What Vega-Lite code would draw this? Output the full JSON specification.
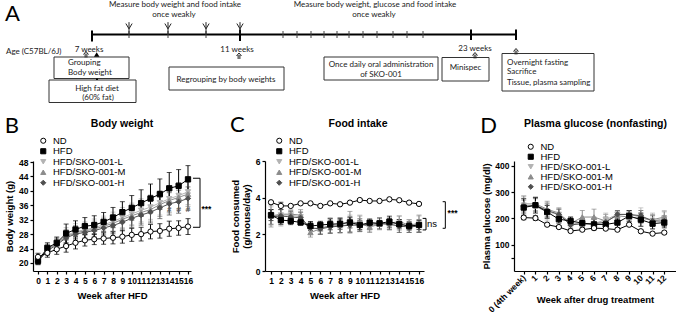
{
  "$schema": "https://vega.github.io/schema/vega-lite/v6.json",
  "background": "white",
  "padding": {"left": 4, "top": 0, "right": 0, "bottom": 0},
  "bounds": "flush",
  "spacing": 56,
  "config": {
    "view": {"stroke": null},
    "font": "Liberation Sans",
    "axis": {"labelFont": "Liberation Sans", "labelFontWeight": "bold", "labelFontSize": 8.5, "labelColor": "#000", "titleFont": "Liberation Sans", "titleFontWeight": "bold", "titleFontSize": 9.5, "titleColor": "#000", "domainColor": "#000", "tickColor": "#000", "domainWidth": 1.2, "tickWidth": 1.2, "tickSize": 3, "labelPadding": 2, "grid": false, "labelOverlap": false, "labelFlush": false},
    "legend": {"padding": 0, "labelFont": "Liberation Sans", "labelFontWeight": "normal", "labelFontSize": 9.5, "labelColor": "#000", "symbolSize": 26, "symbolStrokeWidth": 1, "rowPadding": -0.5, "labelOffset": 5}
  },
  "datasets": {
    "bw": [
      {"g":"HFD/SKO-001-L","w":0,"m":20.8,"e":1.0},{"g":"HFD/SKO-001-L","w":1,"m":23.6,"e":1.3},{"g":"HFD/SKO-001-L","w":2,"m":25.4,"e":1.6},{"g":"HFD/SKO-001-L","w":3,"m":27.6,"e":2.2},{"g":"HFD/SKO-001-L","w":4,"m":28.7,"e":2.2},{"g":"HFD/SKO-001-L","w":5,"m":29.2,"e":2.2},{"g":"HFD/SKO-001-L","w":6,"m":29.8,"e":2.4},{"g":"HFD/SKO-001-L","w":7,"m":30.6,"e":2.4},{"g":"HFD/SKO-001-L","w":8,"m":31.5,"e":2.6},{"g":"HFD/SKO-001-L","w":9,"m":32.6,"e":2.8},{"g":"HFD/SKO-001-L","w":10,"m":33.6,"e":3.0},{"g":"HFD/SKO-001-L","w":11,"m":34.6,"e":3.2},{"g":"HFD/SKO-001-L","w":12,"m":35.5,"e":3.4},{"g":"HFD/SKO-001-L","w":13,"m":36.7,"e":3.4},{"g":"HFD/SKO-001-L","w":14,"m":37.8,"e":3.6},{"g":"HFD/SKO-001-L","w":15,"m":38.7,"e":3.6},{"g":"HFD/SKO-001-L","w":16,"m":39.7,"e":3.5},
      {"g":"HFD/SKO-001-M","w":0,"m":20.6,"e":0.9},{"g":"HFD/SKO-001-M","w":1,"m":23.9,"e":1.3},{"g":"HFD/SKO-001-M","w":2,"m":25.3,"e":1.5},{"g":"HFD/SKO-001-M","w":3,"m":27.3,"e":2.0},{"g":"HFD/SKO-001-M","w":4,"m":28.4,"e":2.0},{"g":"HFD/SKO-001-M","w":5,"m":28.9,"e":2.1},{"g":"HFD/SKO-001-M","w":6,"m":29.4,"e":2.2},{"g":"HFD/SKO-001-M","w":7,"m":30.2,"e":2.3},{"g":"HFD/SKO-001-M","w":8,"m":31.0,"e":2.5},{"g":"HFD/SKO-001-M","w":9,"m":32.1,"e":2.6},{"g":"HFD/SKO-001-M","w":10,"m":33.1,"e":2.8},{"g":"HFD/SKO-001-M","w":11,"m":34.0,"e":3.0},{"g":"HFD/SKO-001-M","w":12,"m":34.8,"e":3.2},{"g":"HFD/SKO-001-M","w":13,"m":36.2,"e":3.3},{"g":"HFD/SKO-001-M","w":14,"m":37.3,"e":3.4},{"g":"HFD/SKO-001-M","w":15,"m":38.2,"e":3.5},{"g":"HFD/SKO-001-M","w":16,"m":39.1,"e":3.4},
      {"g":"HFD/SKO-001-H","w":0,"m":20.4,"e":0.9},{"g":"HFD/SKO-001-H","w":1,"m":23.4,"e":1.2},{"g":"HFD/SKO-001-H","w":2,"m":25.0,"e":1.4},{"g":"HFD/SKO-001-H","w":3,"m":27.0,"e":1.9},{"g":"HFD/SKO-001-H","w":4,"m":28.0,"e":1.9},{"g":"HFD/SKO-001-H","w":5,"m":28.5,"e":2.0},{"g":"HFD/SKO-001-H","w":6,"m":29.0,"e":2.1},{"g":"HFD/SKO-001-H","w":7,"m":29.7,"e":2.2},{"g":"HFD/SKO-001-H","w":8,"m":30.4,"e":2.3},{"g":"HFD/SKO-001-H","w":9,"m":31.3,"e":2.4},{"g":"HFD/SKO-001-H","w":10,"m":32.4,"e":2.6},{"g":"HFD/SKO-001-H","w":11,"m":33.3,"e":2.8},{"g":"HFD/SKO-001-H","w":12,"m":34.1,"e":3.0},{"g":"HFD/SKO-001-H","w":13,"m":35.3,"e":3.0},{"g":"HFD/SKO-001-H","w":14,"m":36.4,"e":3.1},{"g":"HFD/SKO-001-H","w":15,"m":37.0,"e":3.2},{"g":"HFD/SKO-001-H","w":16,"m":37.9,"e":3.2},
      {"g":"HFD","w":0,"m":20.6,"e":1.0},{"g":"HFD","w":1,"m":24.2,"e":1.4},{"g":"HFD","w":2,"m":25.6,"e":1.6},{"g":"HFD","w":3,"m":28.2,"e":2.6},{"g":"HFD","w":4,"m":29.3,"e":2.4},{"g":"HFD","w":5,"m":30.2,"e":2.4},{"g":"HFD","w":6,"m":30.5,"e":2.6},{"g":"HFD","w":7,"m":31.4,"e":2.6},{"g":"HFD","w":8,"m":32.6,"e":2.8},{"g":"HFD","w":9,"m":34.1,"e":2.9},{"g":"HFD","w":10,"m":35.3,"e":3.4},{"g":"HFD","w":11,"m":36.6,"e":3.7},{"g":"HFD","w":12,"m":37.9,"e":4.0},{"g":"HFD","w":13,"m":39.1,"e":4.2},{"g":"HFD","w":14,"m":40.7,"e":4.4},{"g":"HFD","w":15,"m":41.4,"e":4.5},{"g":"HFD","w":16,"m":43.2,"e":3.8},
      {"g":"ND","w":0,"m":21.7,"e":1.0},{"g":"ND","w":1,"m":22.8,"e":1.2},{"g":"ND","w":2,"m":23.8,"e":1.4},{"g":"ND","w":3,"m":24.7,"e":1.7},{"g":"ND","w":4,"m":25.6,"e":1.7},{"g":"ND","w":5,"m":26.3,"e":1.6},{"g":"ND","w":6,"m":26.6,"e":1.5},{"g":"ND","w":7,"m":26.8,"e":1.6},{"g":"ND","w":8,"m":27.0,"e":1.7},{"g":"ND","w":9,"m":27.3,"e":1.8},{"g":"ND","w":10,"m":27.8,"e":1.8},{"g":"ND","w":11,"m":28.0,"e":1.9},{"g":"ND","w":12,"m":28.7,"e":2.0},{"g":"ND","w":13,"m":28.9,"e":2.0},{"g":"ND","w":14,"m":29.5,"e":2.1},{"g":"ND","w":15,"m":29.7,"e":2.0},{"g":"ND","w":16,"m":30.1,"e":2.2}
    ],
    "fi": [
      {"g":"HFD/SKO-001-L","w":1,"m":3.0,"e":0.5},{"g":"HFD/SKO-001-L","w":2,"m":3.05,"e":0.6},{"g":"HFD/SKO-001-L","w":3,"m":3.05,"e":0.3},{"g":"HFD/SKO-001-L","w":4,"m":2.95,"e":0.3},{"g":"HFD/SKO-001-L","w":5,"m":2.3,"e":0.3},{"g":"HFD/SKO-001-L","w":6,"m":2.35,"e":0.3},{"g":"HFD/SKO-001-L","w":7,"m":2.45,"e":0.4},{"g":"HFD/SKO-001-L","w":8,"m":2.45,"e":0.4},{"g":"HFD/SKO-001-L","w":9,"m":2.55,"e":0.5},{"g":"HFD/SKO-001-L","w":10,"m":2.6,"e":0.45},{"g":"HFD/SKO-001-L","w":11,"m":2.45,"e":0.3},{"g":"HFD/SKO-001-L","w":12,"m":2.6,"e":0.3},{"g":"HFD/SKO-001-L","w":13,"m":2.55,"e":0.3},{"g":"HFD/SKO-001-L","w":14,"m":2.6,"e":0.4},{"g":"HFD/SKO-001-L","w":15,"m":2.45,"e":0.35},{"g":"HFD/SKO-001-L","w":16,"m":2.55,"e":0.45},
      {"g":"HFD/SKO-001-M","w":1,"m":3.0,"e":0.6},{"g":"HFD/SKO-001-M","w":2,"m":3.1,"e":0.5},{"g":"HFD/SKO-001-M","w":3,"m":3.1,"e":0.2},{"g":"HFD/SKO-001-M","w":4,"m":3.05,"e":0.3},{"g":"HFD/SKO-001-M","w":5,"m":2.1,"e":0.25},{"g":"HFD/SKO-001-M","w":6,"m":2.3,"e":0.3},{"g":"HFD/SKO-001-M","w":7,"m":2.5,"e":0.4},{"g":"HFD/SKO-001-M","w":8,"m":2.5,"e":0.4},{"g":"HFD/SKO-001-M","w":9,"m":2.7,"e":0.55},{"g":"HFD/SKO-001-M","w":10,"m":2.6,"e":0.4},{"g":"HFD/SKO-001-M","w":11,"m":2.4,"e":0.3},{"g":"HFD/SKO-001-M","w":12,"m":2.55,"e":0.3},{"g":"HFD/SKO-001-M","w":13,"m":2.6,"e":0.3},{"g":"HFD/SKO-001-M","w":14,"m":2.7,"e":0.3},{"g":"HFD/SKO-001-M","w":15,"m":2.5,"e":0.3},{"g":"HFD/SKO-001-M","w":16,"m":2.6,"e":0.45},
      {"g":"HFD/SKO-001-H","w":1,"m":2.95,"e":0.4},{"g":"HFD/SKO-001-H","w":2,"m":3.0,"e":0.35},{"g":"HFD/SKO-001-H","w":3,"m":2.95,"e":0.3},{"g":"HFD/SKO-001-H","w":4,"m":2.9,"e":0.3},{"g":"HFD/SKO-001-H","w":5,"m":2.35,"e":0.3},{"g":"HFD/SKO-001-H","w":6,"m":2.3,"e":0.3},{"g":"HFD/SKO-001-H","w":7,"m":2.4,"e":0.35},{"g":"HFD/SKO-001-H","w":8,"m":2.45,"e":0.35},{"g":"HFD/SKO-001-H","w":9,"m":2.5,"e":0.4},{"g":"HFD/SKO-001-H","w":10,"m":2.5,"e":0.35},{"g":"HFD/SKO-001-H","w":11,"m":2.55,"e":0.3},{"g":"HFD/SKO-001-H","w":12,"m":2.6,"e":0.3},{"g":"HFD/SKO-001-H","w":13,"m":2.55,"e":0.3},{"g":"HFD/SKO-001-H","w":14,"m":2.45,"e":0.35},{"g":"HFD/SKO-001-H","w":15,"m":2.4,"e":0.3},{"g":"HFD/SKO-001-H","w":16,"m":2.45,"e":0.35},
      {"g":"HFD","w":1,"m":3.05,"e":0.3},{"g":"HFD","w":2,"m":2.78,"e":0.25},{"g":"HFD","w":3,"m":2.73,"e":0.2},{"g":"HFD","w":4,"m":2.65,"e":0.15},{"g":"HFD","w":5,"m":2.45,"e":0.25},{"g":"HFD","w":6,"m":2.51,"e":0.2},{"g":"HFD","w":7,"m":2.55,"e":0.3},{"g":"HFD","w":8,"m":2.58,"e":0.3},{"g":"HFD","w":9,"m":2.65,"e":0.3},{"g":"HFD","w":10,"m":2.51,"e":0.25},{"g":"HFD","w":11,"m":2.64,"e":0.1},{"g":"HFD","w":12,"m":2.6,"e":0.15},{"g":"HFD","w":13,"m":2.69,"e":0.3},{"g":"HFD","w":14,"m":2.55,"e":0.25},{"g":"HFD","w":15,"m":2.45,"e":0.2},{"g":"HFD","w":16,"m":2.51,"e":0.25},
      {"g":"ND","w":1,"m":3.75,"e":0.05},{"g":"ND","w":2,"m":3.55,"e":0.2},{"g":"ND","w":3,"m":3.55,"e":0.05},{"g":"ND","w":4,"m":3.69,"e":0.05},{"g":"ND","w":5,"m":3.69,"e":0.05},{"g":"ND","w":6,"m":3.55,"e":0.05},{"g":"ND","w":7,"m":3.69,"e":0.05},{"g":"ND","w":8,"m":3.64,"e":0.05},{"g":"ND","w":9,"m":3.73,"e":0.05},{"g":"ND","w":10,"m":3.87,"e":0.05},{"g":"ND","w":11,"m":3.82,"e":0.05},{"g":"ND","w":12,"m":3.82,"e":0.05},{"g":"ND","w":13,"m":3.91,"e":0.05},{"g":"ND","w":14,"m":3.86,"e":0.05},{"g":"ND","w":15,"m":3.73,"e":0.05},{"g":"ND","w":16,"m":3.66,"e":0.05}
    ],
    "pg": [
      {"g":"HFD/SKO-001-L","w":0,"m":250,"e":35},{"g":"HFD/SKO-001-L","w":1,"m":245,"e":35},{"g":"HFD/SKO-001-L","w":2,"m":225,"e":35},{"g":"HFD/SKO-001-L","w":3,"m":215,"e":20},{"g":"HFD/SKO-001-L","w":4,"m":185,"e":20},{"g":"HFD/SKO-001-L","w":5,"m":175,"e":20},{"g":"HFD/SKO-001-L","w":6,"m":180,"e":25},{"g":"HFD/SKO-001-L","w":7,"m":195,"e":25},{"g":"HFD/SKO-001-L","w":8,"m":215,"e":15},{"g":"HFD/SKO-001-L","w":9,"m":215,"e":15},{"g":"HFD/SKO-001-L","w":10,"m":205,"e":35},{"g":"HFD/SKO-001-L","w":11,"m":190,"e":30},{"g":"HFD/SKO-001-L","w":12,"m":200,"e":30},
      {"g":"HFD/SKO-001-M","w":0,"m":255,"e":30},{"g":"HFD/SKO-001-M","w":1,"m":255,"e":25},{"g":"HFD/SKO-001-M","w":2,"m":235,"e":30},{"g":"HFD/SKO-001-M","w":3,"m":220,"e":20},{"g":"HFD/SKO-001-M","w":4,"m":180,"e":20},{"g":"HFD/SKO-001-M","w":5,"m":205,"e":25},{"g":"HFD/SKO-001-M","w":6,"m":205,"e":30},{"g":"HFD/SKO-001-M","w":7,"m":190,"e":25},{"g":"HFD/SKO-001-M","w":8,"m":210,"e":15},{"g":"HFD/SKO-001-M","w":9,"m":205,"e":15},{"g":"HFD/SKO-001-M","w":10,"m":200,"e":20},{"g":"HFD/SKO-001-M","w":11,"m":195,"e":20},{"g":"HFD/SKO-001-M","w":12,"m":205,"e":20},
      {"g":"HFD/SKO-001-H","w":0,"m":245,"e":25},{"g":"HFD/SKO-001-H","w":1,"m":250,"e":25},{"g":"HFD/SKO-001-H","w":2,"m":230,"e":25},{"g":"HFD/SKO-001-H","w":3,"m":215,"e":20},{"g":"HFD/SKO-001-H","w":4,"m":175,"e":15},{"g":"HFD/SKO-001-H","w":5,"m":180,"e":20},{"g":"HFD/SKO-001-H","w":6,"m":180,"e":20},{"g":"HFD/SKO-001-H","w":7,"m":185,"e":20},{"g":"HFD/SKO-001-H","w":8,"m":215,"e":15},{"g":"HFD/SKO-001-H","w":9,"m":215,"e":15},{"g":"HFD/SKO-001-H","w":10,"m":210,"e":20},{"g":"HFD/SKO-001-H","w":11,"m":190,"e":20},{"g":"HFD/SKO-001-H","w":12,"m":190,"e":20},
      {"g":"HFD","w":0,"m":241,"e":35},{"g":"HFD","w":1,"m":250,"e":30},{"g":"HFD","w":2,"m":224,"e":25},{"g":"HFD","w":3,"m":197,"e":15},{"g":"HFD","w":4,"m":190,"e":15},{"g":"HFD","w":5,"m":182,"e":15},{"g":"HFD","w":6,"m":177,"e":20},{"g":"HFD","w":7,"m":177,"e":15},{"g":"HFD","w":8,"m":184,"e":20},{"g":"HFD","w":9,"m":209,"e":20},{"g":"HFD","w":10,"m":195,"e":25},{"g":"HFD","w":11,"m":180,"e":20},{"g":"HFD","w":12,"m":184,"e":20},
      {"g":"ND","w":0,"m":203,"e":8},{"g":"ND","w":1,"m":201,"e":8},{"g":"ND","w":2,"m":176,"e":5},{"g":"ND","w":3,"m":167,"e":5},{"g":"ND","w":4,"m":152,"e":5},{"g":"ND","w":5,"m":157,"e":5},{"g":"ND","w":6,"m":163,"e":6},{"g":"ND","w":7,"m":161,"e":6},{"g":"ND","w":8,"m":157,"e":5},{"g":"ND","w":9,"m":176,"e":5},{"g":"ND","w":10,"m":151,"e":5},{"g":"ND","w":11,"m":142,"e":5},{"g":"ND","w":12,"m":146,"e":5}
    ]
  },
  "vconcat": [
    {
      "width": 644,
      "height": 105,
      "encoding": {
        "x": {"field": "x", "type": "quantitative", "scale": {"domain": [32, 676], "nice": false, "zero": false}, "axis": null},
        "y": {"field": "y", "type": "quantitative", "scale": {"domain": [0, 105], "nice": false, "zero": false, "reverse": true}, "axis": null}
      },
      "layer": [
        {"data": {"values": [{"x":53,"x2":128,"y":57,"y2":78.5},{"x":48,"x2":135,"y":80,"y2":102.5},{"x":168,"x2":283,"y":67,"y2":90},{"x":323,"x2":437,"y":57,"y2":80},{"x":441,"x2":488,"y":57.5,"y2":81},{"x":501,"x2":593,"y":53.5,"y2":91}]},
         "mark": {"type": "rect", "fill": "white", "stroke": "#333", "strokeWidth": 1},
         "encoding": {"x2": {"field": "x2"}, "y2": {"field": "y2"}}},
        {"data": {"values": [{"x":96,"y":78.5,"y2":80}]},
         "mark": {"type": "rule", "stroke": "#000", "strokeWidth": 2},
         "encoding": {"y2": {"field": "y2"}}},
        {"data": {"values": [{"x":91,"x2":515,"y":34.5}]},
         "mark": {"type": "rule", "stroke": "#000", "strokeWidth": 2},
         "encoding": {"x2": {"field": "x2"}}},
        {"data": {"values": [{"x":128,"y":31,"y2":38},{"x":167,"y":31,"y2":38},{"x":205,"y":31,"y2":38},{"x":282,"y":31,"y2":38},{"x":296,"y":31,"y2":38},{"x":310,"y":31,"y2":38},{"x":323,"y":31,"y2":38},{"x":336,"y":31,"y2":38},{"x":348,"y":31,"y2":38},{"x":362,"y":31,"y2":38},{"x":376,"y":31,"y2":38},{"x":392,"y":31,"y2":38},{"x":406,"y":31,"y2":38},{"x":422,"y":31,"y2":38}]},
         "mark": {"type": "rule", "stroke": "#444", "strokeWidth": 1},
         "encoding": {"y2": {"field": "y2"}}},
        {"data": {"values": [{"x":91,"y":30.5,"y2":41.5},{"x":239,"y":29.5,"y2":41},{"x":470,"y":29.5,"y2":40},{"x":515,"y":29.5,"y2":40}]},
         "mark": {"type": "rule", "stroke": "#000", "strokeWidth": 2},
         "encoding": {"y2": {"field": "y2"}}},
        {"data": {"values": [{"x":128,"y":26},{"x":167,"y":26},{"x":205,"y":26},{"x":239,"y":26}]},
         "mark": {"type": "point", "shape": "M-0.9,-0.7L0,0.8L0.9,-0.7M0,-1.1V2.3", "size": 49, "filled": false, "stroke": "#222", "strokeWidth": 1, "opacity": 1}},
        {"data": {"values": [{"x":85,"y":54.5},{"x":238,"y":56},{"x":474,"y":55.5},{"x":515,"y":51.5}]},
         "mark": {"type": "point", "shape": "M-1,0L0,-1.2L1,0M-0.35,-0.4V1.2M0.35,-0.4V1.2", "size": 25, "filled": false, "stroke": "#222", "strokeWidth": 1, "opacity": 1}},
        {"data": {"values": [{"x":95.7,"y":54.5}]},
         "mark": {"type": "point", "shape": "triangle-up", "size": 30, "filled": true, "fill": "#000", "opacity": 1}},
        {"data": {"values": [
          {"x":174,"y":5,"t":"Measure body weight and food intake"},
          {"x":173,"y":14.5,"t":"once weakly"},
          {"x":374,"y":5,"t":"Measure body weight, glucose and food intake"},
          {"x":373,"y":14.5,"t":"once weakly"},
          {"x":88,"y":49.5,"t":"7 weeks"},
          {"x":236,"y":50,"t":"11 weeks"},
          {"x":474,"y":49,"t":"23 weeks"},
          {"x":96,"y":88.5,"t":"High fat diet"},
          {"x":97,"y":98,"t":"(60% fat)"},
          {"x":225,"y":79.5,"t":"Regrouping by body weights"},
          {"x":380,"y":64.5,"t":"Once daily oral administration"},
          {"x":380,"y":75,"t":"of SKO-001"},
          {"x":464.5,"y":68,"t":"Minispec"}]},
         "mark": {"type": "text", "font": "Lato", "fontSize": 8, "fill": "#1a1a1a", "align": "center", "baseline": "middle"},
         "encoding": {"text": {"field": "t"}}},
        {"data": {"values": [
          {"x":5,"y":52,"t":"Age (C57BL/6J)"},
          {"x":67,"y":62.5,"t":"Grouping"},
          {"x":67,"y":72.5,"t":"Body weight"},
          {"x":506,"y":62.5,"t":"Overnight fasting"},
          {"x":506,"y":72,"t":"Sacrifice"},
          {"x":506,"y":82.5,"t":"Tissue, plasma sampling"}]},
         "mark": {"type": "text", "font": "Lato", "fontSize": 8, "fill": "#1a1a1a", "align": "left", "baseline": "middle"},
         "encoding": {"text": {"field": "t"}}},
        {"data": {"values": [{"x":4,"y":14,"t":"A"}]},
         "mark": {"type": "text", "font": "Lato", "fontSize": 22, "fill": "#000", "align": "left", "baseline": "middle"},
         "encoding": {"text": {"field": "t"}}}
      ]
    },
    {
      "hconcat": [
        {
          "width": 158,
          "height": 110,
          "data": {"name": "bw"},
          "encoding": {
            "x": {"field": "w", "type": "quantitative", "scale": {"domain": [-0.533, 16.32], "nice": false, "zero": false}, "axis": {"values": [0,1,2,3,4,5,6,7,8,9,10,11,12,13,14,15,16], "title": "Week after HFD", "minExtent": 14, "maxExtent": 14, "titlePadding": 5}},
            "y": {"field": "m", "type": "quantitative", "scale": {"domain": [17.78, 48.28], "nice": false, "zero": false}, "axis": {"values": [20,24,28,32,36,40,44,48], "title": "Body weight (g)", "minExtent": 15, "maxExtent": 15, "titlePadding": 4}}
          },
          "layer": [
            {"mark": {"type": "errorbar", "ticks": {"size": 5}, "thickness": 1},
             "encoding": {"yError": {"field": "e"}, "color": {"field": "g", "type": "nominal", "scale": {"domain": ["ND","HFD","HFD/SKO-001-L","HFD/SKO-001-M","HFD/SKO-001-H"], "range": ["#000000","#000000","#b3b3b3","#8c8c8c","#4f4f4f"]}, "legend": null}}},
            {"mark": {"type": "line", "strokeWidth": 1},
             "encoding": {"stroke": {"field": "g", "type": "nominal", "scale": {"domain": ["ND","HFD","HFD/SKO-001-L","HFD/SKO-001-M","HFD/SKO-001-H"], "range": ["#000000","#000000","#b3b3b3","#8c8c8c","#4f4f4f"]}, "legend": {"orient": "none", "legendX": 5.5, "legendY": -25, "title": null}}}},
            {"mark": {"type": "point", "filled": false, "size": 28, "strokeWidth": 1, "opacity": 1},
             "encoding": {
               "shape": {"field": "g", "type": "nominal", "scale": {"domain": ["ND","HFD","HFD/SKO-001-L","HFD/SKO-001-M","HFD/SKO-001-H"], "range": ["circle","square","triangle-down","triangle-up","diamond"]}, "legend": {"orient": "none", "legendX": 5.5, "legendY": -25, "title": null}},
               "fill": {"field": "g", "type": "nominal", "scale": {"domain": ["ND","HFD","HFD/SKO-001-L","HFD/SKO-001-M","HFD/SKO-001-H"], "range": ["#ffffff","#000000","#b3b3b3","#8c8c8c","#4f4f4f"]}, "legend": {"orient": "none", "legendX": 5.5, "legendY": -25, "title": null}},
               "stroke": {"field": "g", "type": "nominal", "scale": {"domain": ["ND","HFD","HFD/SKO-001-L","HFD/SKO-001-M","HFD/SKO-001-H"], "range": ["#000000","#000000","#b3b3b3","#8c8c8c","#4f4f4f"]}, "legend": {"orient": "none", "legendX": 5.5, "legendY": -25, "title": null}}
             }},
            {"data": {"values": [{"w":16.53,"m":43.5,"i":0},{"w":17.28,"m":43.5,"i":1},{"w":17.28,"m":29.9,"i":2},{"w":16.53,"m":29.9,"i":3}]},
             "mark": {"type": "line", "stroke": "#000", "strokeWidth": 1},
             "encoding": {"order": {"field": "i", "type": "quantitative"}}},
            {"data": {"values": [{"w":17.97,"m":35.0,"t":"***"}]},
             "mark": {"type": "text", "font": "Liberation Sans", "fontWeight": "bold", "fontSize": 8.5, "fill": "#000"},
             "encoding": {"text": {"field": "t"}}},
            {"data": {"values": [{"w":14,"m":34.7,"t":"#"},{"w":15,"m":34.7,"t":"#"},{"w":16,"m":34.7,"t":"#"}]},
             "mark": {"type": "text", "font": "Liberation Sans", "fontWeight": "bold", "fontSize": 8, "fill": "#555"},
             "encoding": {"text": {"field": "t"}}},
            {"data": {"values": [{"w":-2.794,"m":57.9,"t":"B"}]},
             "mark": {"type": "text", "font": "Lato", "fontSize": 22, "fill": "#000"},
             "encoding": {"text": {"field": "t"}}},
            {"data": {"values": [{"w":8.96,"m":58.46,"t":"Body weight"}]},
             "mark": {"type": "text", "font": "Liberation Sans", "fontWeight": "bold", "fontSize": 10.5, "fill": "#000"},
             "encoding": {"text": {"field": "t"}}}
          ]
        },
        {
          "width": 175,
          "height": 110,
          "data": {"name": "fi"},
          "encoding": {
            "x": {"field": "w", "type": "quantitative", "scale": {"domain": [0.392, 16.507], "range": [0, 159], "nice": false, "zero": false}, "axis": {"values": [1,2,3,4,5,6,7,8,9,10,11,12,13,14,15,16], "title": "Week after HFD", "minExtent": 14, "maxExtent": 14, "titlePadding": 5}},
            "y": {"field": "m", "type": "quantitative", "scale": {"domain": [0, 6], "nice": false, "zero": false}, "axis": {"values": [0,2,4,6], "title": ["Food consumed", "(g/mouse/day)"], "titleLineHeight": 11, "minExtent": 10, "maxExtent": 10, "titlePadding": 4}}
          },
          "layer": [
            {"mark": {"type": "errorbar", "ticks": {"size": 5}, "thickness": 1},
             "encoding": {"yError": {"field": "e"}, "color": {"field": "g", "type": "nominal", "scale": {"domain": ["ND","HFD","HFD/SKO-001-L","HFD/SKO-001-M","HFD/SKO-001-H"], "range": ["#000000","#000000","#b3b3b3","#8c8c8c","#4f4f4f"]}, "legend": null}}},
            {"mark": {"type": "line", "strokeWidth": 1},
             "encoding": {"stroke": {"field": "g", "type": "nominal", "scale": {"domain": ["ND","HFD","HFD/SKO-001-L","HFD/SKO-001-M","HFD/SKO-001-H"], "range": ["#000000","#000000","#b3b3b3","#8c8c8c","#4f4f4f"]}, "legend": {"orient": "none", "legendX": 9.5, "legendY": -25, "title": null}}}},
            {"mark": {"type": "point", "filled": false, "size": 28, "strokeWidth": 1, "opacity": 1},
             "encoding": {
               "shape": {"field": "g", "type": "nominal", "scale": {"domain": ["ND","HFD","HFD/SKO-001-L","HFD/SKO-001-M","HFD/SKO-001-H"], "range": ["circle","square","triangle-down","triangle-up","diamond"]}, "legend": {"orient": "none", "legendX": 9.5, "legendY": -25, "title": null}},
               "fill": {"field": "g", "type": "nominal", "scale": {"domain": ["ND","HFD","HFD/SKO-001-L","HFD/SKO-001-M","HFD/SKO-001-H"], "range": ["#ffffff","#000000","#b3b3b3","#8c8c8c","#4f4f4f"]}, "legend": {"orient": "none", "legendX": 9.5, "legendY": -25, "title": null}},
               "stroke": {"field": "g", "type": "nominal", "scale": {"domain": ["ND","HFD","HFD/SKO-001-L","HFD/SKO-001-M","HFD/SKO-001-H"], "range": ["#000000","#000000","#b3b3b3","#8c8c8c","#4f4f4f"]}, "legend": {"orient": "none", "legendX": 9.5, "legendY": -25, "title": null}}
             }},
            {"data": {"values": [{"w":18.40,"m":3.78,"i":0},{"w":18.67,"m":3.78,"i":1},{"w":18.67,"m":2.33,"i":2},{"w":18.40,"m":2.33,"i":3}]},
             "mark": {"type": "line", "stroke": "#000", "strokeWidth": 1},
             "encoding": {"order": {"field": "i", "type": "quantitative"}}},
            {"data": {"values": [{"w":16.37,"m":2.87,"i":0},{"w":16.71,"m":2.87,"i":1},{"w":16.71,"m":2.24,"i":2},{"w":16.37,"m":2.24,"i":3}]},
             "mark": {"type": "line", "stroke": "#000", "strokeWidth": 1},
             "encoding": {"order": {"field": "i", "type": "quantitative"}}},
            {"data": {"values": [{"w":19.40,"m":3.16,"t":"***"}]},
             "mark": {"type": "text", "font": "Liberation Sans", "fontWeight": "bold", "fontSize": 8.5, "fill": "#000"},
             "encoding": {"text": {"field": "t"}}},
            {"data": {"values": [{"w":17.32,"m":2.54,"t":"ns"}]},
             "mark": {"type": "text", "font": "Liberation Sans", "fontSize": 9.5, "fill": "#000"},
             "encoding": {"text": {"field": "t"}}},
            {"data": {"values": [{"w":-2.415,"m":7.964,"t":"C"}]},
             "mark": {"type": "text", "font": "Lato", "fontSize": 22, "fill": "#000"},
             "encoding": {"text": {"field": "t"}}},
            {"data": {"values": [{"w":9.818,"m":8.002,"t":"Food intake"}]},
             "mark": {"type": "text", "font": "Liberation Sans", "fontWeight": "bold", "fontSize": 10.5, "fill": "#000"},
             "encoding": {"text": {"field": "t"}}}
          ]
        },
        {
          "width": 162,
          "height": 110,
          "data": {"name": "pg"},
          "encoding": {
            "x": {"field": "w", "type": "quantitative", "scale": {"domain": [-0.83, 13.0], "nice": false, "zero": false}, "axis": {"values": [0,1,2,3,4,5,6,7,8,9,10,11,12], "labelExpr": "datum.value == 0 ? '0 (4th week)' : datum.label", "labelAngle": -45, "labelAlign": "right", "labelBaseline": "middle", "title": "Week after drug treatment", "maxExtent": 16, "titlePadding": 7}},
            "y": {"field": "m", "type": "quantitative", "scale": {"domain": [0, 418], "nice": false, "zero": false}, "axis": {"values": [50,100,200,300,400], "labelExpr": "datum.value == 50 ? '' : datum.label", "title": "Plasma glucose  (mg/dl)", "minExtent": 19, "maxExtent": 19, "titlePadding": 4}}
          },
          "layer": [
            {"mark": {"type": "errorbar", "ticks": {"size": 5}, "thickness": 1},
             "encoding": {"yError": {"field": "e"}, "color": {"field": "g", "type": "nominal", "scale": {"domain": ["ND","HFD","HFD/SKO-001-L","HFD/SKO-001-M","HFD/SKO-001-H"], "range": ["#000000","#000000","#b3b3b3","#8c8c8c","#4f4f4f"]}, "legend": null}}},
            {"mark": {"type": "line", "strokeWidth": 1},
             "encoding": {"stroke": {"field": "g", "type": "nominal", "scale": {"domain": ["ND","HFD","HFD/SKO-001-L","HFD/SKO-001-M","HFD/SKO-001-H"], "range": ["#000000","#000000","#b3b3b3","#8c8c8c","#4f4f4f"]}, "legend": {"orient": "none", "legendX": 12, "legendY": -19, "rowPadding": -1.5, "title": null}}}},
            {"mark": {"type": "point", "filled": false, "size": 28, "strokeWidth": 1, "opacity": 1},
             "encoding": {
               "shape": {"field": "g", "type": "nominal", "scale": {"domain": ["ND","HFD","HFD/SKO-001-L","HFD/SKO-001-M","HFD/SKO-001-H"], "range": ["circle","square","triangle-down","triangle-up","diamond"]}, "legend": {"orient": "none", "legendX": 12, "legendY": -19, "rowPadding": -1.5, "title": null}},
               "fill": {"field": "g", "type": "nominal", "scale": {"domain": ["ND","HFD","HFD/SKO-001-L","HFD/SKO-001-M","HFD/SKO-001-H"], "range": ["#ffffff","#000000","#b3b3b3","#8c8c8c","#4f4f4f"]}, "legend": {"orient": "none", "legendX": 12, "legendY": -19, "rowPadding": -1.5, "title": null}},
               "stroke": {"field": "g", "type": "nominal", "scale": {"domain": ["ND","HFD","HFD/SKO-001-L","HFD/SKO-001-M","HFD/SKO-001-H"], "range": ["#000000","#000000","#b3b3b3","#8c8c8c","#4f4f4f"]}, "legend": {"orient": "none", "legendX": 12, "legendY": -19, "rowPadding": -1.5, "title": null}}
             }},
            {"data": {"values": [{"w":-3.007,"m":551.8,"t":"D"}]},
             "mark": {"type": "text", "font": "Lato", "fontSize": 22, "fill": "#000"},
             "encoding": {"text": {"field": "t"}}},
            {"data": {"values": [{"w":6.127,"m":557.5,"t":"Plasma glucose (nonfasting)"}]},
             "mark": {"type": "text", "font": "Liberation Sans", "fontWeight": "bold", "fontSize": 10.5, "fill": "#000"},
             "encoding": {"text": {"field": "t"}}}
          ]
        }
      ],
      "spacing": 74,
      "bounds": "flush",
      "resolve": {"legend": {"shape": "independent", "fill": "independent", "stroke": "independent"}}
    }
  ]
}
